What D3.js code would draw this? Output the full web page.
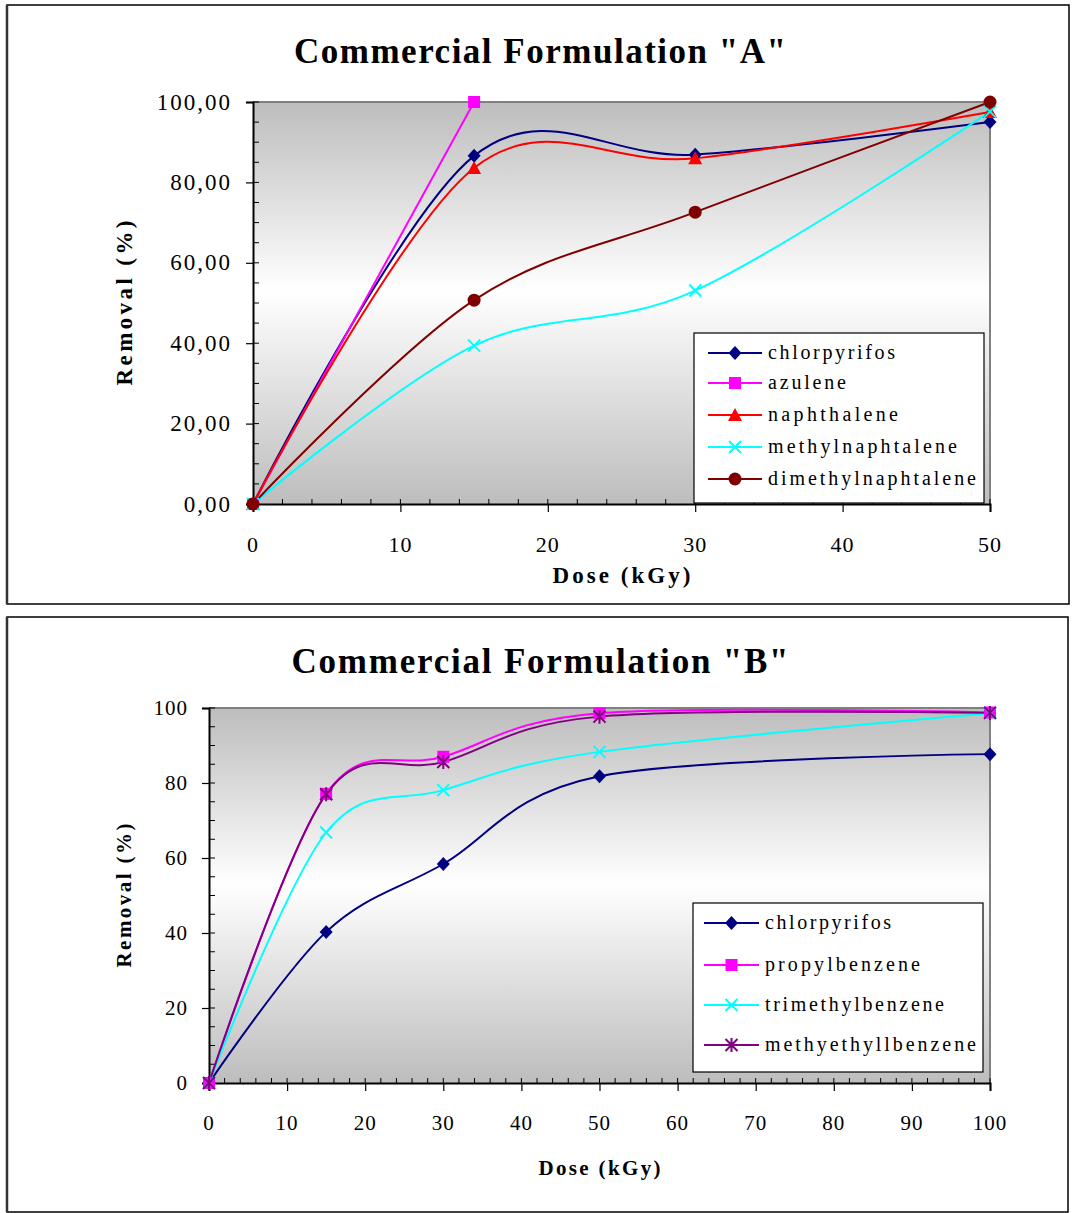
<!DOCTYPE html>
<html>
<head>
<meta charset="utf-8">
<script src="https://cdn.jsdelivr.net/npm/d3@7"></script>
<style>
  html, body { margin: 0; padding: 0; background: #fff; }
  svg text { font-family: "Liberation Serif", "Times New Roman", Times, serif; fill: #000; }
</style>
</head>
<body>
<svg id="chart" width="1072" height="1213" font-family="Liberation Serif, Times New Roman, serif"></svg>
<script>
// ---------------- DATA ----------------
// Panel A
const dosesA = [0, 15, 30, 50];
const chlorpyrifosA = [0, 86.6, 86.9, 95.0];
const azuleneA = [0, 100];
const naphthaleneA = [0, 83.6, 86.0, 97.5];
const methylnaphtaleneA = [0, 39.4, 53.1, 97.6];
const dimethylnaphtaleneA = [0, 50.7, 72.6, 100];
const xTicksA = [0, 10, 20, 30, 40, 50];
const yTicksA = [0, 20, 40, 60, 80, 100];

// Panel B
const dosesB = [0, 15, 30, 50, 100];
const chlorpyrifosB = [0, 40.3, 58.4, 81.8, 87.7];
const propylbenzeneB = [0, 77.1, 87.0, 98.6, 98.8];
const trimethylbenzeneB = [0, 66.8, 78.1, 88.3, 98.6];
const methyethyllbenzeneB = [0, 77.0, 85.6, 97.7, 98.7];
const xTicksB = [0, 10, 20, 30, 40, 50, 60, 70, 80, 90, 100];
const yTicksB = [0, 20, 40, 60, 80, 100];

// ---------------- DRAW ----------------
const svg = d3.select("#chart");
const defs = svg.append("defs");
const grad = defs.append("linearGradient").attr("id", "bg").attr("x1", 0).attr("y1", 0).attr("x2", 0).attr("y2", 1);
grad.append("stop").attr("offset", "0").attr("stop-color", "#bdbdbd");
grad.append("stop").attr("offset", "0.47").attr("stop-color", "#ffffff");
grad.append("stop").attr("offset", "1").attr("stop-color", "#bdbdbd");

function marker(g, type, color, x, y) {
  const s = 6;
  if (type === "diamond") {
    g.append("path").attr("d", `M${x},${y - s - 1}L${x + s + 0.5},${y}L${x},${y + s + 1}L${x - s - 0.5},${y}Z`).attr("fill", color);
  } else if (type === "square") {
    g.append("rect").attr("x", x - s).attr("y", y - s).attr("width", 2 * s).attr("height", 2 * s).attr("fill", color);
  } else if (type === "triangle") {
    g.append("path").attr("d", `M${x},${y - s - 1}L${x + s + 1},${y + s}L${x - s - 1},${y + s}Z`).attr("fill", color);
  } else if (type === "circle") {
    g.append("circle").attr("cx", x).attr("cy", y).attr("r", s + 0.5).attr("fill", color);
  } else if (type === "x") {
    g.append("path").attr("d", `M${x - s},${y - s}L${x + s},${y + s}M${x - s},${y + s}L${x + s},${y - s}`).attr("stroke", color).attr("stroke-width", 2).attr("fill", "none");
  } else if (type === "star") {
    g.append("path").attr("d", `M${x - s},${y - s}L${x + s},${y + s}M${x - s},${y + s}L${x + s},${y - s}M${x},${y - s - 1}L${x},${y + s + 1}`).attr("stroke", color).attr("stroke-width", 2).attr("fill", "none");
  }
}

function panel(cfg) {
  const g = svg.append("g");
  // outer frame
  g.append("rect").attr("x", cfg.frame[0]).attr("y", cfg.frame[1]).attr("width", cfg.frame[2]).attr("height", cfg.frame[3])
    .attr("fill", "#fff").attr("stroke", "#000").attr("stroke-width", 1.5);
  g.append("line").attr("x1", cfg.frame[0]).attr("x2", cfg.frame[0]).attr("y1", cfg.frame[1]).attr("y2", cfg.frame[1] + cfg.frame[3])
    .attr("stroke", "#333").attr("stroke-width", 2.5);

  const x = d3.scaleLinear().domain(cfg.xDomain).range([cfg.left, cfg.right]);
  const y = d3.scaleLinear().domain([0, 100]).range([cfg.bottom, cfg.top]);

  // plot area
  g.append("rect").attr("x", cfg.left).attr("y", cfg.top).attr("width", cfg.right - cfg.left).attr("height", cfg.bottom - cfg.top)
    .attr("fill", "url(#bg)");
  g.append("path").attr("d", `M${cfg.left},${cfg.top}H${cfg.right}V${cfg.bottom}`).attr("fill", "none").attr("stroke", "#808080").attr("stroke-width", 2);

  // minor ticks (inside)
  const xMinor = d3.range(cfg.xDomain[0], cfg.xDomain[1] + 0.001, 2);
  g.selectAll(null).data(xMinor).enter().append("line")
    .attr("x1", d => x(d)).attr("x2", d => x(d)).attr("y1", cfg.bottom).attr("y2", cfg.bottom - 5)
    .attr("stroke", "#000").attr("stroke-width", 1);
  const yMinor = d3.range(0, 100.001, 5);
  g.selectAll(null).data(yMinor).enter().append("line")
    .attr("x1", cfg.left).attr("x2", cfg.left + 6).attr("y1", d => y(d)).attr("y2", d => y(d))
    .attr("stroke", "#000").attr("stroke-width", 1);

  // axes
  const xAxis = d3.axisBottom(x).tickValues(cfg.xTicks).tickSize(8).tickPadding(0).tickFormat("");
  const gx = g.append("g").attr("transform", `translate(0,${cfg.bottom})`).call(xAxis);
  gx.select(".domain").attr("stroke", "#000").attr("stroke-width", 2);
  gx.selectAll(".tick line").attr("stroke", "#000").attr("stroke-width", 1.2);
  const yAxis = d3.axisLeft(y).tickValues(cfg.yTicks).tickSize(7).tickFormat("");
  const gy = g.append("g").attr("transform", `translate(${cfg.left},0)`).call(yAxis);
  gy.select(".domain").attr("stroke", "#000").attr("stroke-width", 2);
  gy.selectAll(".tick line").attr("stroke", "#000").attr("stroke-width", 1.2);

  // tick labels
  g.selectAll(null).data(cfg.xTicks).enter().append("text")
    .attr("x", d => x(d)).attr("y", cfg.bottom + cfg.xLabelOffset)
    .attr("text-anchor", "middle").attr("font-size", cfg.tickFont).attr("letter-spacing", 1)
    .text(d => d);
  g.selectAll(null).data(cfg.yTicks).enter().append("text")
    .attr("x", cfg.left - 21).attr("y", d => y(d) + cfg.yTickFont * 0.33)
    .attr("text-anchor", "end").attr("font-size", cfg.yTickFont).attr("letter-spacing", cfg.yTickSpacing)
    .text(cfg.yFormat);

  // series
  const line = d3.line().x(d => x(d[0])).y(d => y(d[1])).curve(d3.curveCardinal.tension(0));
  cfg.series.forEach(s => {
    const pts = s.values.map((v, i) => [cfg.doses[i], v]);
    g.append("path").attr("d", line(pts)).attr("fill", "none").attr("stroke", s.color).attr("stroke-width", 2);
  });
  cfg.series.forEach(s => {
    s.values.forEach((v, i) => marker(g, s.marker, s.color, x(cfg.doses[i]), y(v)));
  });

  // legend
  const L = cfg.legend;
  g.append("rect").attr("x", L.x).attr("y", L.y).attr("width", L.w).attr("height", L.h)
    .attr("fill", "#fff").attr("stroke", "#000").attr("stroke-width", 1.2);
  cfg.series.forEach((s, i) => {
    const cy = L.rows[i];
    g.append("line").attr("x1", L.lineX0).attr("x2", L.lineX1).attr("y1", cy).attr("y2", cy)
      .attr("stroke", s.color).attr("stroke-width", 2);
    marker(g, s.marker, s.color, (L.lineX0 + L.lineX1) / 2, cy);
    g.append("text").attr("x", L.textX).attr("y", cy + 6).attr("font-size", L.font)
      .attr("textLength", s.textLen).attr("lengthAdjust", "spacing").text(s.name);
  });

  // titles
  g.append("text").attr("x", cfg.titleX).attr("y", cfg.titleY).attr("text-anchor", "middle")
    .attr("font-size", 35).attr("font-weight", "bold")
    .attr("textLength", cfg.titleLen).attr("lengthAdjust", "spacing").text(cfg.title);
  g.append("text").attr("x", (cfg.left + cfg.right) / 2).attr("y", cfg.xTitleY).attr("text-anchor", "middle")
    .attr("font-size", cfg.axisFont).attr("font-weight", "bold")
    .attr("textLength", cfg.xTitleLen).attr("lengthAdjust", "spacing").text("Dose (kGy)");
  g.append("text").attr("transform", `translate(${cfg.yTitleX},${(cfg.top + cfg.bottom) / 2}) rotate(-90)`)
    .attr("text-anchor", "middle").attr("font-size", cfg.axisFont).attr("font-weight", "bold")
    .attr("textLength", cfg.yTitleLen).attr("lengthAdjust", "spacing").text("Removal (%)");
}

panel({
  frame: [7, 5, 1062, 599],
  left: 253, right: 990, top: 102, bottom: 504,
  xDomain: [0, 50], xTicks: xTicksA, yTicks: yTicksA,
  yFormat: d => d3.format(".2f")(d).replace(".", ","),
  tickFont: 22, yTickFont: 23, yTickSpacing: 2, xLabelOffset: 48,
  doses: dosesA,
  series: [
    { name: "chlorpyrifos", values: chlorpyrifosA, color: "#000080", marker: "diamond", textLen: 127 },
    { name: "azulene", values: azuleneA, color: "#ff00ff", marker: "square", textLen: 78 },
    { name: "naphthalene", values: naphthaleneA, color: "#ff0000", marker: "triangle", textLen: 130 },
    { name: "methylnaphtalene", values: methylnaphtaleneA, color: "#00ffff", marker: "x", textLen: 189 },
    { name: "dimethylnaphtalene", values: dimethylnaphtaleneA, color: "#800000", marker: "circle", textLen: 208 }
  ],
  legend: { x: 694, y: 333, w: 290, h: 170, rows: [353, 383, 415, 447, 479], lineX0: 708, lineX1: 762, textX: 768, font: 20 },
  title: 'Commercial Formulation "A"', titleX: 540, titleY: 63, titleLen: 492,
  xTitleY: 583, xTitleLen: 138, yTitleX: 132, yTitleLen: 165, axisFont: 23
});

panel({
  frame: [7, 617, 1061, 595],
  left: 209, right: 990, top: 708, bottom: 1083,
  xDomain: [0, 100], xTicks: xTicksB, yTicks: yTicksB,
  yFormat: d => d,
  tickFont: 21, yTickFont: 21, yTickSpacing: 1, xLabelOffset: 47,
  doses: dosesB,
  series: [
    { name: "chlorpyrifos", values: chlorpyrifosB, color: "#000080", marker: "diamond", textLen: 126 },
    { name: "propylbenzene", values: propylbenzeneB, color: "#ff00ff", marker: "square", textLen: 155 },
    { name: "trimethylbenzene", values: trimethylbenzeneB, color: "#00ffff", marker: "x", textLen: 179 },
    { name: "methyethyllbenzene", values: methyethyllbenzeneB, color: "#800080", marker: "star", textLen: 211 }
  ],
  legend: { x: 693, y: 903, w: 290, h: 169, rows: [923, 965, 1005, 1045], lineX0: 704, lineX1: 759, textX: 765, font: 20 },
  title: 'Commercial Formulation "B"', titleX: 540, titleY: 673, titleLen: 497,
  xTitleY: 1175, xTitleLen: 122, yTitleX: 131, yTitleLen: 144, axisFont: 21
});
</script>
</body>
</html>
